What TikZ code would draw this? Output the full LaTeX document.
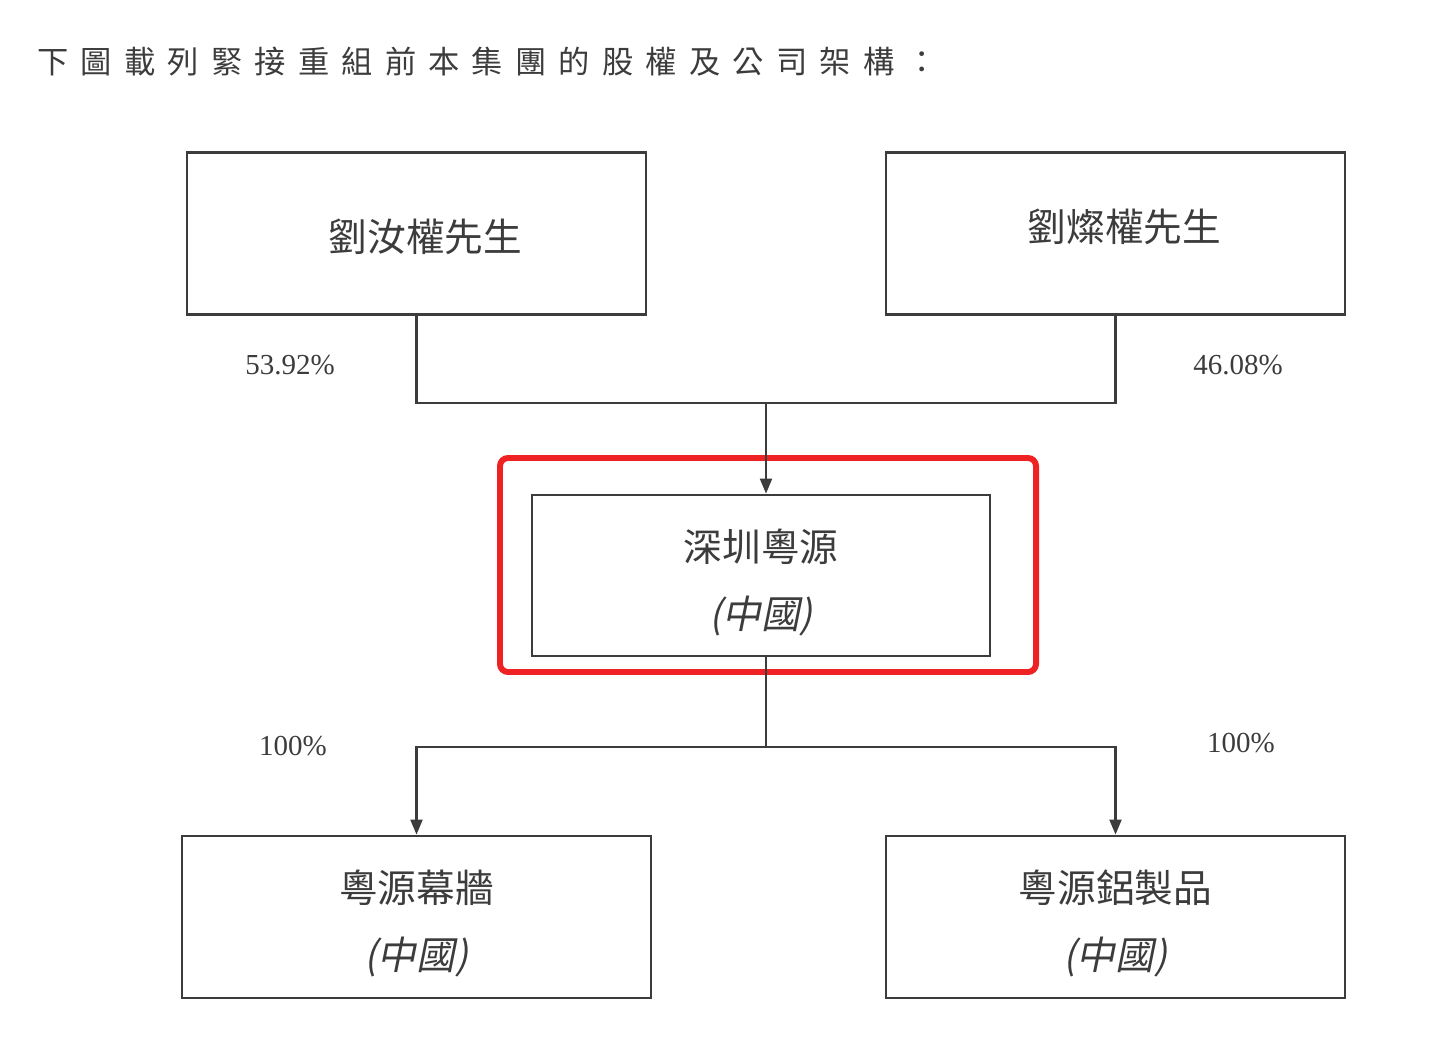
\documentclass[tikz,border=0pt]{standalone}
\usepackage{fontspec}
\setmainfont{Liberation Serif}
\newfontfamily\cjk{Noto Sans CJK TC}
\newfontfamily\cjkslant[FakeSlant=0.2]{Noto Sans CJK TC}
\usetikzlibrary{arrows.meta}
\definecolor{ink}{HTML}{3C3C3C}
\definecolor{hilite}{HTML}{EE2222}
\tikzset{
  entity/.style={draw=ink, line width=1.6pt, minimum width=9.18cm, minimum height=3.25cm,
    align=center, text=ink, font=\cjk\fontsize{22}{38}\selectfont},
  share/.style={text=ink, font=\fontsize{16.5}{18}\selectfont},
  link/.style={draw=ink, line width=1.2pt}
}
\begin{document}
\begin{tikzpicture}
      \useasboundingbox (0,0) rectangle (28.78,-21.16);
      \node[anchor=west, text=ink, font=\cjk\fontsize{17.8}{20}\selectfont\addfontfeature{LetterSpace=39}]
        (title) at (0.62,-1.24) {下圖載列緊接重組前本集團的股權及公司架構：};
      \draw
        (8.33,-4.67) node[entity] (ruquan){\hspace*{0.36cm}\rule{0pt}{0.78cm}劉汝權先生}
        (22.31,-4.67) node[entity] (canquan){\hspace*{0.36cm}\rule[-0.33cm]{0pt}{0pt}劉燦權先生}
        (15.22,-11.51) node[entity, minimum width=9.16cm, minimum height=3.22cm] (shenzhen){\rule{0pt}{0.92cm}深圳粵源\\{\cjkslant (中國)}}
        (8.33,-18.34) node[entity, minimum width=9.38cm, minimum height=3.24cm] (mugiang){\rule{0pt}{0.92cm}粵源幕牆\\{\cjkslant (中國)}}
        (22.31,-18.34) node[entity, minimum height=3.24cm] (lvzhi){\rule{0pt}{0.92cm}粵源鋁製品\\{\cjkslant (中國)}};
      \draw[hilite, line width=3.4pt, rounded corners=0.16cm] (10.0,-9.16) rectangle (20.72,-13.44);
      \coordinate (top) at (15.32,-8.06);
      \coordinate (bottom) at (15.32,-14.94);
      \node[share] (p1) at (5.8,-7.3) {53.92\%};
      \node[share] (p2) at (24.76,-7.3) {46.08\%};
      \node[share] (p3) at (5.86,-14.92) {100\%};
      \node[share] (p4) at (24.82,-14.86) {100\%};
      \begin{scope}[link]
        \draw (ruquan.south) |- (top) -| (canquan.south);
        \draw[-{Triangle[width=0.24cm,length=0.3cm]}] (top) -- (top |- shenzhen.north);
        \draw (bottom |- shenzhen.south) -- (bottom);
        \draw[-{Triangle[width=0.24cm,length=0.3cm]}] (bottom) -| (mugiang.north);
        \draw[-{Triangle[width=0.24cm,length=0.3cm]}] (bottom) -| (lvzhi.north);
      \end{scope}
    \end{tikzpicture}
\end{document}
